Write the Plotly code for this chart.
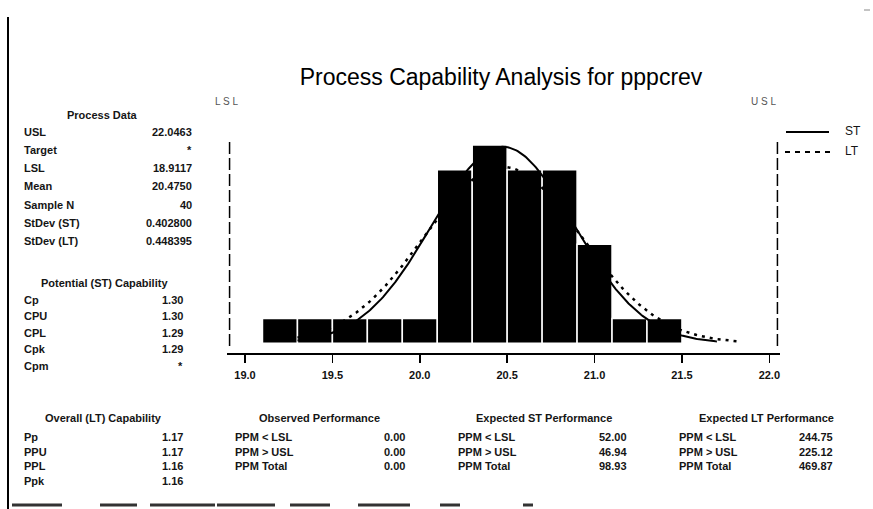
import numpy as np
import plotly.graph_objects as go

W, H = 873, 509

# ---------------- data ----------------
bin_centers = [19.2, 19.4, 19.6, 19.8, 20.0, 20.2, 20.4, 20.6, 20.8, 21.0, 21.2, 21.4]
bin_counts = [1, 1, 1, 1, 1, 7, 8, 7, 7, 4, 1, 1]
BIN_WIDTH = 0.2

USL = 22.0463
LSL = 18.9117
MEAN = 20.4750
N = 40
SD_ST = 0.402800
SD_LT = 0.448395
ST_CURVE_RANGE = (19.3, 21.7)
LT_CURVE_RANGE = (19.3, 21.82)

x_ticks = [19.0, 19.5, 20.0, 20.5, 21.0, 21.5, 22.0]
x_tick_labels = ["19.0", "19.5", "20.0", "20.5", "21.0", "21.5", "22.0"]

process_labels = ["USL", "Target", "LSL", "Mean", "Sample N", "StDev (ST)", "StDev (LT)"]
process_values = ["22.0463", "*", "18.9117", "20.4750", "40", "0.402800", "0.448395"]

potential_labels = ["Cp", "CPU", "CPL", "Cpk", "Cpm"]
potential_values = ["1.30", "1.30", "1.29", "1.29", "*"]

overall_labels = ["Pp", "PPU", "PPL", "Ppk"]
overall_values = ["1.17", "1.17", "1.16", "1.16"]

ppm_labels = ["PPM &lt; LSL", "PPM &gt; USL", "PPM Total"]
observed_values = ["0.00", "0.00", "0.00"]
expected_st_values = ["52.00", "46.94", "98.93"]
expected_lt_values = ["244.75", "225.12", "469.87"]


# normal curves scaled to histogram counts (from the process data above)
def normal_counts(x, mu, sd):
    return N * BIN_WIDTH * np.exp(-0.5 * ((x - mu) / sd) ** 2) / (sd * np.sqrt(2 * np.pi))

cx_st = np.linspace(*ST_CURVE_RANGE, 300)
cx_lt = np.linspace(*LT_CURVE_RANGE, 300)

# ---------------- helpers ----------------
def px(x):
    return x / W

def py(y):
    return 1 - y / H

FONT = "Liberation Sans"

fig = go.Figure()

fig.add_trace(go.Bar(
    x=bin_centers, y=bin_counts, width=BIN_WIDTH,
    marker=dict(color="black", line=dict(color="white", width=1.5)),
    showlegend=False, hoverinfo="skip",
))
fig.add_trace(go.Scatter(
    x=cx_st, y=normal_counts(cx_st, MEAN, SD_ST), mode="lines",
    line=dict(color="black", width=2), name="ST", showlegend=False,
))
fig.add_trace(go.Scatter(
    x=cx_lt, y=normal_counts(cx_lt, MEAN, SD_LT), mode="lines",
    line=dict(color="black", width=2.5, dash="3px,5px"), name="LT", showlegend=False,
))

annotations = []
shapes = []

def text(x, y, s, anchor="left", size=11, bold=True, color="#151515"):
    annotations.append(dict(
        x=px(x), y=py(y), xref="paper", yref="paper", text=(f"<b>{s}</b>" if bold else s),
        showarrow=False, xanchor=anchor, yanchor="middle",
        font=dict(family=FONT, size=size, color=color),
    ))

def table(header, hx, hy, labels, values, lx, vx, y0, step):
    text(hx, hy, header, anchor="center")
    for i, (l, v) in enumerate(zip(labels, values)):
        text(lx, y0 + i * step, l, anchor="left")
        text(vx, y0 + i * step, v, anchor="right")

table("Process Data", 102, 115, process_labels, process_values, 22, 194, 132, 18.15)
table("Potential (ST) Capability", 104, 283, potential_labels, potential_values, 22, 185, 300, 16.4)
table("Overall (LT) Capability", 103, 418, overall_labels, overall_values, 22, 185, 437, 14.7)
table("Observed Performance", 319, 418, ppm_labels, observed_values, 233, 407, 437, 14.7)
table("Expected ST Performance", 544, 418, ppm_labels, expected_st_values, 456, 629, 437, 14.7)
table("Expected LT Performance", 766, 418, ppm_labels, expected_lt_values, 677, 835, 437, 14.7)

# spec limit labels
text(213, 101, "L S L", anchor="left", size=10, bold=False, color="#555555")
text(778, 101, "U S L", anchor="right", size=10, bold=False, color="#555555")

# legend
shapes.append(dict(type="line", xref="paper", yref="paper", x0=px(786), x1=px(829), y0=py(132), y1=py(132),
                   line=dict(color="black", width=2)))
shapes.append(dict(type="line", xref="paper", yref="paper", x0=px(785), x1=px(830), y0=py(152), y1=py(152),
                   line=dict(color="black", width=2, dash="5px,5px")))
text(843, 131, "ST", anchor="left", size=12, bold=False)
text(843, 151, "LT", anchor="left", size=12, bold=False)

# spec limit lines
for v in (LSL, USL):
    shapes.append(dict(type="line", xref="x", yref="paper", x0=v, x1=v, y0=py(346), y1=py(138),
                       line=dict(color="black", width=1.5, dash="12px,4px")))

# scan border and edge marks
shapes.append(dict(type="line", xref="paper", yref="paper", x0=px(8), x1=px(8), y0=py(17), y1=py(509),
                   line=dict(color="black", width=2)))
shapes.append(dict(type="line", xref="paper", yref="paper", x0=px(864), x1=px(870), y0=py(10), y1=py(10),
                   line=dict(color="#888888", width=1)))
for a, b in [(12, 62), (100, 137), (150, 215), (217, 275), (290, 330), (358, 410), (440, 460), (523, 533)]:
    shapes.append(dict(type="line", xref="paper", yref="paper", x0=px(a), x1=px(b), y0=py(505), y1=py(505),
                       line=dict(color="#333333", width=3)))

fig.update_layout(
    width=W, height=H,
    margin=dict(l=0, r=0, t=0, b=0),
    paper_bgcolor="white", plot_bgcolor="white",
    bargap=0,
    title=dict(text="Process Capability Analysis for pppcrev", x=px(501), y=py(77),
               xanchor="center", yanchor="middle", font=dict(family=FONT, size=23, color="black")),
    xaxis=dict(domain=[px(227), px(780)], range=[18.897, 22.061],
               tickvals=x_ticks, ticktext=x_tick_labels,
               showline=True, linecolor="black", linewidth=1.5,
               ticks="outside", ticklen=8, tickwidth=1.5, tickcolor="black",
               ticklabelstandoff=3,
               tickfont=dict(family=FONT, size=11, color="#111111", weight="bold"),
               showgrid=False, zeroline=False, fixedrange=True),
    yaxis=dict(domain=[py(353), py(138)], range=[-0.39, 8.28], visible=False,
               showgrid=False, zeroline=False, fixedrange=True),
    annotations=annotations,
    shapes=shapes,
    showlegend=False,
    hovermode=False,
)

fig.write_html("out.html", config={"displayModeBar": False, "staticPlot": True})

# remove the browser's default page margin so the figure sits at (0, 0)
with open("out.html", "r", encoding="utf-8") as f:
    html = f.read()
html = html.replace("<body>", '<body style="margin:0;padding:0;overflow:hidden;">', 1)
with open("out.html", "w", encoding="utf-8") as f:
    f.write(html)
